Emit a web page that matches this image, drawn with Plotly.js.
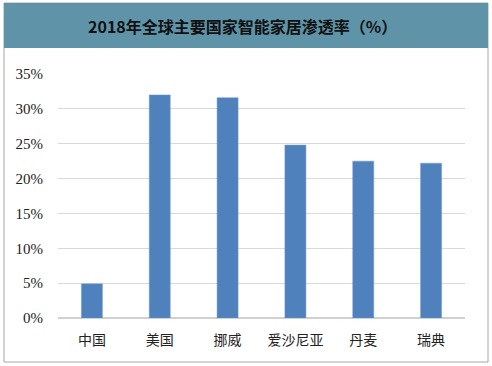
<!DOCTYPE html>
<html><head><meta charset="utf-8">
<script src="https://cdn.plot.ly/plotly-3.0.1.min.js"></script>
<style>body{margin:0;background:#fff}#c{width:492px;height:366px}</style>
</head><body><div id="c"></div>
<script>
const categories = ['中国','美国','挪威','爱沙尼亚','丹麦','瑞典'];
const penetration = [4.9, 32.0, 31.6, 24.8, 22.5, 22.2];
const yTicks = [0,5,10,15,20,25,30,35];
const yTickText = yTicks.map(v => v + '%');
const titleText = '2018年全球主要国家智能家居渗透率（%）';

const L=58, R=465, T=74, B=318;
const px = x => (x-L)/(R-L);
const py = y => (B-y)/(B-T);

Plotly.newPlot('c', [{
  type:'bar', x:categories, y:penetration,
  marker:{color:'#4F81BD', line:{color:'#6E9BD0', width:0.5}},
  width:0.31, hoverinfo:'none'
}], {
  width:492, height:366,
  margin:{l:L, r:492-R, t:T, b:366-B, pad:0},
  paper_bgcolor:'#fff', plot_bgcolor:'#fff',
  showlegend:false,
  xaxis:{type:'category', showgrid:false, zeroline:false, showline:false, ticks:'',
    tickfont:{family:'Noto Sans CJK SC', size:14, color:'#222'}, ticklabelstandoff:12},
  yaxis:{range:[0,35], tickvals:yTicks, ticktext:yTickText, showgrid:true, gridcolor:'#d9d9d9', gridwidth:1,
    zeroline:true, zerolinecolor:'#d0d0d0', zerolinewidth:1.5, showline:false, ticks:'',
    tickfont:{family:'Liberation Serif', size:15, color:'#222'}, ticklabelstandoff:14},
  shapes:[
    {type:'rect', xref:'paper', yref:'paper', x0:px(4), x1:px(488), y0:py(362), y1:py(3),
     line:{color:'#a6a6a6', width:1}, fillcolor:'rgba(0,0,0,0)', layer:'below'},
    {type:'rect', xref:'paper', yref:'paper', x0:px(4), x1:px(488), y0:py(48), y1:py(3),
     line:{width:0}, fillcolor:'#5F93A8', layer:'below'}
  ],
  annotations:[{
    xref:'paper', yref:'paper', x:px(242), y:py(26), text:'<b>'+titleText+'</b>', showarrow:false,
    font:{family:'Noto Sans CJK SC', size:16, color:'#111'}, xanchor:'center', yanchor:'middle'
  }]
}, {displayModeBar:false, staticPlot:true});
</script></body></html>
